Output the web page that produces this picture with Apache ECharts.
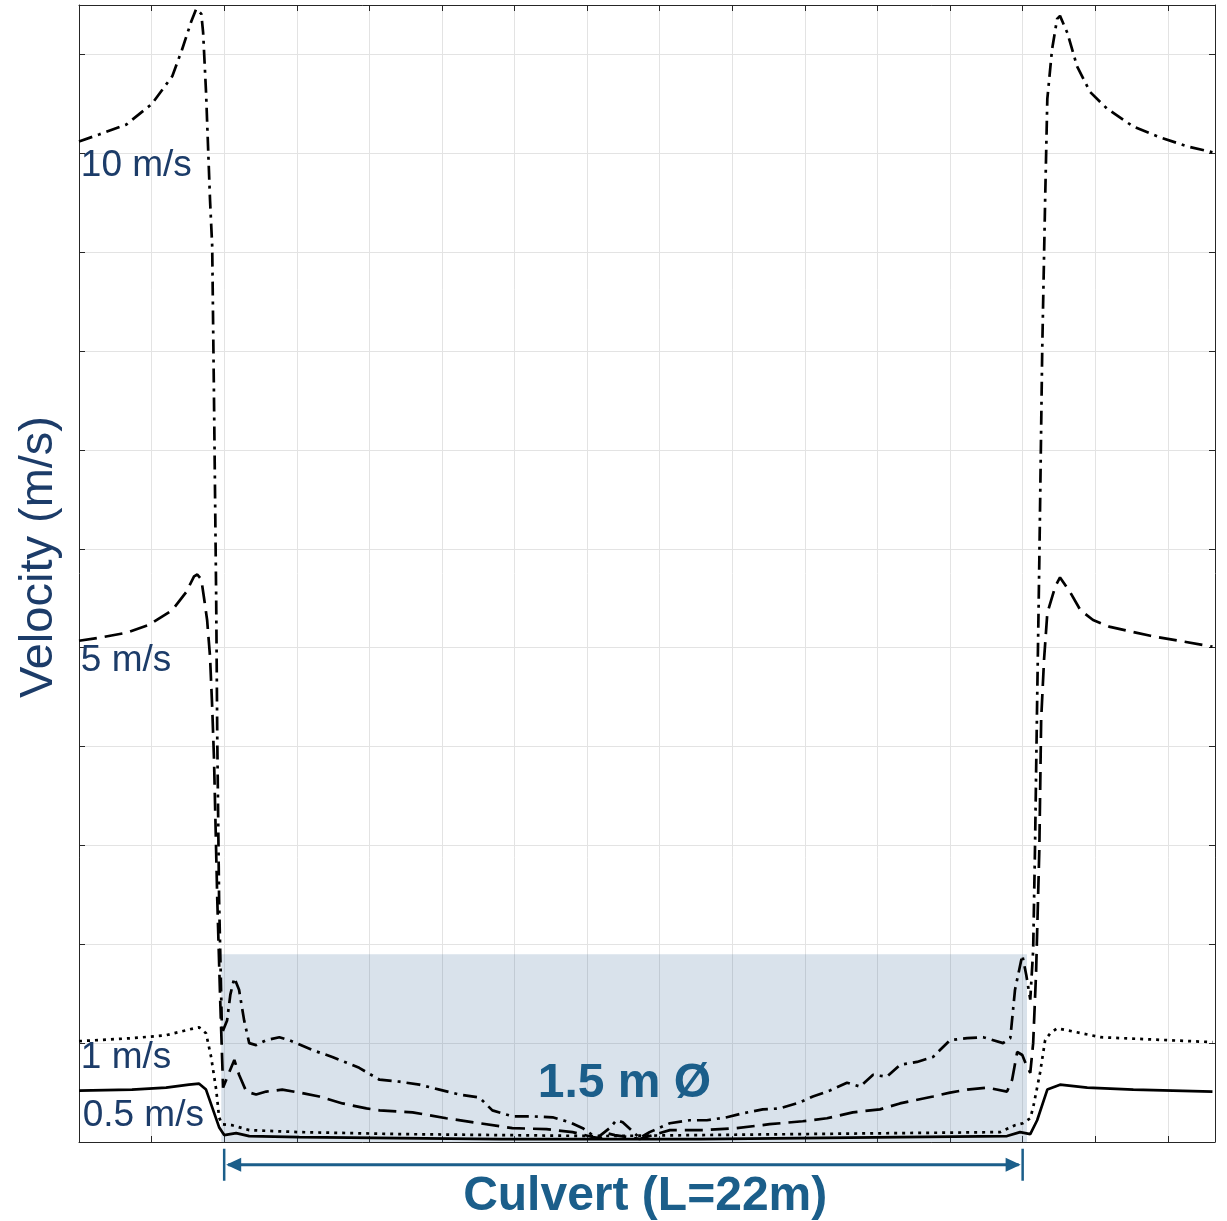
<!DOCTYPE html>
<html>
<head>
    <meta charset="utf-8">
    <script src="https://cdn.jsdelivr.net/npm/echarts@6/dist/echarts.min.js"></script>
    <style>
        html, body { margin: 0; padding: 0; background: #fff; }
        #main { width: 1227px; height: 1221px; }
    </style>
</head>
<body>
    <div id="main"></div>
    <script>
        // velocity profiles along the channel, [distance (m), velocity (m/s)]
        var v10 = [[-4.00,10.12],[-3.45,10.19],[-2.70,10.29],[-1.99,10.50],[-1.43,10.78],[-1.16,11.05],[-0.91,11.33],[-0.77,11.46],[-0.72,11.48],[-0.63,11.41],[-0.58,11.22],[-0.50,10.62],[-0.39,9.53],[-0.33,9.06],[-0.28,7.51],[-0.22,5.49],[-0.19,4.07],[-0.14,2.45],[-0.08,1.44],[-0.06,1.10],[0.08,1.23],[0.17,1.49],[0.28,1.66],[0.41,1.54],[0.55,1.23],[0.69,1.00],[0.88,0.98],[1.16,1.03],[1.52,1.06],[1.79,1.03],[2.43,0.93],[2.98,0.86],[3.72,0.75],[4.28,0.63],[4.83,0.61],[5.38,0.58],[5.93,0.53],[6.48,0.48],[7.03,0.45],[7.39,0.32],[7.94,0.26],[8.41,0.26],[9.05,0.25],[9.52,0.20],[9.88,0.14],[10.15,0.07],[10.34,0.06],[10.62,0.14],[10.81,0.22],[10.98,0.20],[11.45,0.04],[11.72,0.10],[12.28,0.19],[12.83,0.22],[13.30,0.22],[13.85,0.25],[14.29,0.29],[14.84,0.33],[15.31,0.34],[15.86,0.40],[16.22,0.46],[16.69,0.52],[17.16,0.60],[17.52,0.56],[17.88,0.68],[18.26,0.66],[18.62,0.78],[19.09,0.81],[19.53,0.86],[20.00,1.03],[20.47,1.05],[20.91,1.06],[21.46,1.00],[21.66,1.05],[21.79,1.54],[21.99,1.89],[22.10,1.69],[22.21,1.44],[22.29,1.94],[22.34,2.96],[22.40,4.47],[22.46,5.89],[22.54,8.02],[22.62,9.53],[22.68,10.55],[22.81,11.05],[22.95,11.36],[23.03,11.39],[23.23,11.22],[23.50,10.88],[23.86,10.62],[24.33,10.45],[25.05,10.27],[25.79,10.16],[26.54,10.07],[27.23,10.01]];

        var v5 = [[-4.00,5.07],[-3.45,5.10],[-2.70,5.15],[-2.07,5.23],[-1.43,5.38],[-1.05,5.56],[-0.83,5.72],[-0.74,5.74],[-0.63,5.69],[-0.55,5.49],[-0.47,5.28],[-0.39,4.91],[-0.33,4.40],[-0.28,3.87],[-0.19,2.45],[-0.11,1.44],[-0.03,0.55],[0.11,0.68],[0.28,0.83],[0.41,0.68],[0.61,0.51],[0.88,0.48],[1.16,0.51],[1.60,0.53],[2.07,0.50],[2.62,0.46],[3.26,0.39],[3.92,0.34],[4.28,0.32],[5.19,0.30],[6.12,0.24],[7.03,0.19],[7.94,0.14],[8.88,0.13],[9.60,0.10],[10.15,0.05],[10.34,0.04],[10.54,0.09],[10.76,0.07],[11.45,0.03],[11.72,0.06],[12.28,0.12],[13.19,0.12],[14.12,0.14],[15.03,0.18],[15.94,0.21],[16.61,0.24],[17.32,0.30],[18.07,0.33],[18.62,0.39],[19.53,0.46],[20.00,0.50],[20.47,0.53],[21.02,0.55],[21.57,0.51],[21.71,0.63],[21.85,0.91],[21.99,0.88],[22.10,0.78],[22.21,0.70],[22.29,1.00],[22.37,1.71],[22.46,2.96],[22.51,4.27],[22.59,4.88],[22.68,5.35],[22.90,5.62],[23.03,5.71],[23.31,5.56],[23.59,5.38],[23.94,5.28],[24.41,5.21],[25.52,5.12],[27.23,5.01]];

        var v1 = [[-4.00,1.02],[-2.54,1.05],[-1.60,1.08],[-0.83,1.15],[-0.69,1.16],[-0.50,1.10],[-0.36,0.86],[-0.22,0.53],[-0.14,0.25],[-0.06,0.18],[0.22,0.17],[0.69,0.12],[2.07,0.10],[4.83,0.08],[7.59,0.07],[10.34,0.06],[13.10,0.07],[15.86,0.08],[18.62,0.09],[21.38,0.10],[21.79,0.17],[22.01,0.19],[22.21,0.24],[22.29,0.35],[22.48,0.70],[22.62,1.03],[22.76,1.10],[22.95,1.15],[23.23,1.13],[24.14,1.06],[25.99,1.03],[27.23,1.01]];

        var v05 = [[-4.00,0.52],[-2.54,0.53],[-1.60,0.55],[-0.97,0.58],[-0.69,0.59],[-0.50,0.53],[-0.33,0.35],[-0.14,0.15],[0.00,0.07],[0.33,0.09],[0.69,0.06],[2.07,0.05],[4.83,0.04],[7.59,0.03],[10.34,0.03],[13.10,0.03],[15.86,0.04],[18.62,0.05],[21.57,0.06],[21.93,0.10],[22.21,0.08],[22.40,0.22],[22.68,0.53],[23.03,0.58],[23.78,0.55],[25.05,0.53],[27.23,0.51]];

        var seriesNames = ['10 m/s', '5 m/s', '1 m/s', '0.5 m/s'];
        var culvert = [-0.08, 22.12];   // shaded culvert section (m)
        var culvertTop = 1.9;           // shaded height
        var culvertLen = [0, 22];       // dimension arrow ends (m)

        var FONT = 'Liberation Sans, Arial, sans-serif';
        var ink = '#000';
        var navy = '#1c3c69';
        var steel = '#1b5e8a';

        var myChart = echarts.init(document.getElementById('main'));

        function axisX(pos, grid) {
            return {
                type: 'value', position: pos, min: -4, max: 27.3, interval: 2,
                axisLine: { show: true, onZero: false, lineStyle: { color: '#262626', width: 1 } },
                axisTick: { show: true, inside: true, length: 6, lineStyle: { color: '#262626' } },
                axisLabel: { show: false },
                splitLine: { show: grid, lineStyle: { color: '#e3e3e3', width: 1 } }
            };
        }
        function axisY(pos, grid) {
            return {
                type: 'value', position: pos, min: 0, max: 11.5, interval: 1,
                axisLine: { show: true, onZero: false, lineStyle: { color: '#262626', width: 1 } },
                axisTick: { show: true, inside: true, length: 6, lineStyle: { color: '#262626' } },
                axisLabel: { show: false },
                splitLine: { show: grid, lineStyle: { color: '#e3e3e3', width: 1 } }
            };
        }

        function profile(name, data, dash) {
            return {
                name: name, type: 'line', data: data, z: 3,
                showSymbol: false, symbol: 'none', silent: true,
                lineStyle: { color: ink, width: 2.7, type: dash }
            };
        }

        var option = {
            animation: false,
            backgroundColor: '#fff',
            grid: { left: 79, right: 12, top: 5, bottom: 79 },
            xAxis: [axisX('bottom', true), axisX('top', false)],
            yAxis: [axisY('left', true), axisY('right', false)],
            series: [
                {
                    type: 'line', data: [], z: 1, silent: true,
                    markArea: {
                        silent: true,
                        itemStyle: { color: 'rgba(65,110,155,0.2)' },
                        data: [[{ xAxis: culvert[0], yAxis: 0 }, { xAxis: culvert[1], yAxis: culvertTop }]]
                    }
                },
                profile(seriesNames[0], v10, [14, 6, 3, 6]),
                profile(seriesNames[1], v5, [18, 8]),
                profile(seriesNames[2], v1, [3, 5]),
                profile(seriesNames[3], v05, 'solid')
            ]
        };
        myChart.setOption(option);

        // annotations placed through the grid's own scale
        function px(x, y) { return myChart.convertToPixel({ gridIndex: 0 }, [x, y]); }

        function txt(str, p, size, color, weight, align) {
            return {
                type: 'text', x: p[0], y: p[1], z: 10, silent: true,
                style: {
                    text: str, fill: color, fontSize: size, fontFamily: FONT,
                    fontWeight: weight || 'normal', align: align || 'left', verticalAlign: 'middle'
                }
            };
        }

        var a0 = px(culvertLen[0], -0.23);
        var a1 = px(culvertLen[1], -0.23);
        var ay = a0[1];
        var g = [
            txt(seriesNames[0], px(-3.95, 9.87), 37, navy),
            txt(seriesNames[1], px(-3.95, 4.87), 37, navy),
            txt(seriesNames[2], px(-3.95, 0.85), 37, navy),
            txt(seriesNames[3], px(-3.90, 0.27), 37, navy),
            txt('1.5 m Ø', px(11.03, 0.59), 48, steel, 'bold', 'center'),
            txt('Culvert (L=22m)', px(11.6, -0.55), 48, steel, 'bold', 'center'),
            {
                type: 'text', x: 39, y: 557, rotation: Math.PI / 2, silent: true,
                style: { text: 'Velocity (m/s)', fill: navy, fontSize: 47, fontFamily: FONT, align: 'center', verticalAlign: 'middle' }
            },
            { type: 'line', silent: true, shape: { x1: a0[0] + 4, y1: ay, x2: a1[0] - 4, y2: ay }, style: { stroke: steel, lineWidth: 3 } },
            { type: 'line', silent: true, shape: { x1: a0[0], y1: ay - 16, x2: a0[0], y2: ay + 16 }, style: { stroke: steel, lineWidth: 2.5 } },
            { type: 'line', silent: true, shape: { x1: a1[0], y1: ay - 16, x2: a1[0], y2: ay + 16 }, style: { stroke: steel, lineWidth: 2.5 } },
            { type: 'polygon', silent: true, shape: { points: [[a0[0] + 2, ay], [a0[0] + 17, ay - 7], [a0[0] + 17, ay + 7]] }, style: { fill: steel } },
            { type: 'polygon', silent: true, shape: { points: [[a1[0] - 2, ay], [a1[0] - 17, ay - 7], [a1[0] - 17, ay + 7]] }, style: { fill: steel } }
        ];
        myChart.setOption({ graphic: g });
    </script>
</body>
</html>
